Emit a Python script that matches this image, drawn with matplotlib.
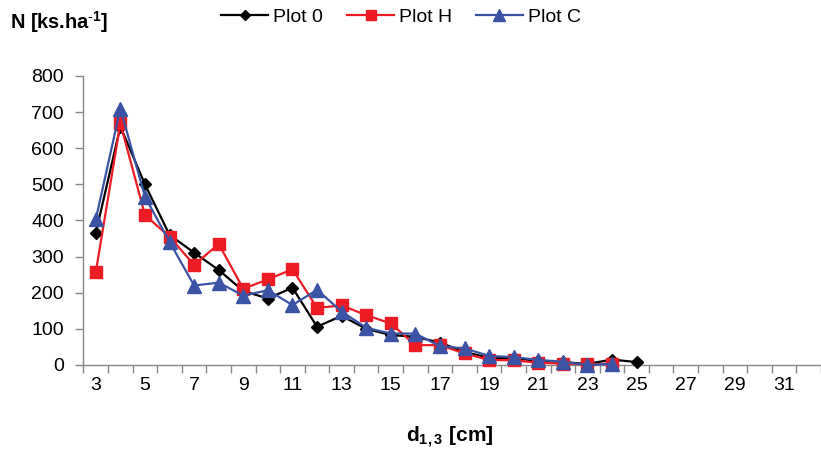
import matplotlib
matplotlib.use("Agg")
import matplotlib.pyplot as plt
from matplotlib.ticker import FixedLocator, MultipleLocator

plt.rcParams['font.family'] = ['Liberation Sans', 'DejaVu Sans']
plt.rcParams['mathtext.fontset'] = 'custom'
plt.rcParams['mathtext.rm'] = 'Liberation Sans'
plt.rcParams['mathtext.bf'] = 'Liberation Sans:bold'

# diameter classes (cm)
classes = list(range(3, 33))

plot_0_d = list(range(3, 26))
plot_0 = [365, 660, 500, 360, 311, 263, 205, 184, 214, 106, 136, 100, 83,
          78, 62, 36, 20, 18, 12, 8, 3, 15, 8]

plot_h_d = list(range(3, 25))
plot_h = [257, 669, 415, 355, 277, 335, 211, 237, 265, 158, 165, 138, 115,
          55, 55, 32, 14, 13, 6, 4, 2, 4]

plot_c_d = list(range(3, 25))
plot_c = [403, 710, 466, 341, 220, 228, 192, 207, 166, 208, 148, 103, 87,
          87, 52, 46, 25, 22, 14, 9, 0, 3]

y_ticks = list(range(0, 801, 100))

fig = plt.figure(figsize=(8.21, 4.51), dpi=100)
ax = fig.add_axes([0.1017, 0.1907, 0.8983, 0.6408])

ax.plot(plot_0_d, plot_0, color='black', marker='D', ms=6.5, lw=1.6,
        label='Plot 0', clip_on=False, zorder=3)
ax.plot(plot_h_d, plot_h, color='#ED1C24', marker='s', ms=9, lw=1.6,
        label='Plot H', clip_on=False, zorder=4)
ax.plot(plot_c_d, plot_c, color='#3A53A4', marker='^', ms=10, lw=1.6,
        label='Plot C', clip_on=False, zorder=5)

ax.set_xlim(classes[0] - 0.5, classes[-1] + 0.5)
ax.set_ylim(y_ticks[0], y_ticks[-1])
ax.set_yticks(y_ticks)

# category axis: labels every other class, tick marks between classes
ax.xaxis.set_major_locator(FixedLocator(classes[::2]))
ax.xaxis.set_minor_locator(MultipleLocator(1, offset=0.5))
ax.tick_params(axis='x', which='major', length=0, pad=9, labelsize=14)
ax.tick_params(axis='x', which='minor', length=6, width=1, color='#888888',
               direction='out')
ax.tick_params(axis='y', length=6, width=1, color='#888888', direction='out',
               pad=8, labelsize=14)

for side in ['top', 'right']:
    ax.spines[side].set_visible(False)
for side in ['left', 'bottom']:
    ax.spines[side].set_color('#888888')
    ax.spines[side].set_linewidth(1)

fig.text(0.012, 0.951, r'N [ks.ha$^{\mathbf{\text{-}1}}$]', fontsize=14.4,
         fontweight='bold', va='center', ha='left')
fig.text(0.548, 0.031, r'$\mathbf{d_{1,3}}$ [cm]', fontsize=15,
         fontweight='bold', va='center', ha='center')

fig.legend(loc='center', bbox_to_anchor=(0.4885, 0.962), ncol=3,
           frameon=False, fontsize=14, handlelength=2.4, handletextpad=0.25,
           columnspacing=1.25, borderpad=0, markerscale=0.8)

fig.savefig('out.png', dpi=100)
